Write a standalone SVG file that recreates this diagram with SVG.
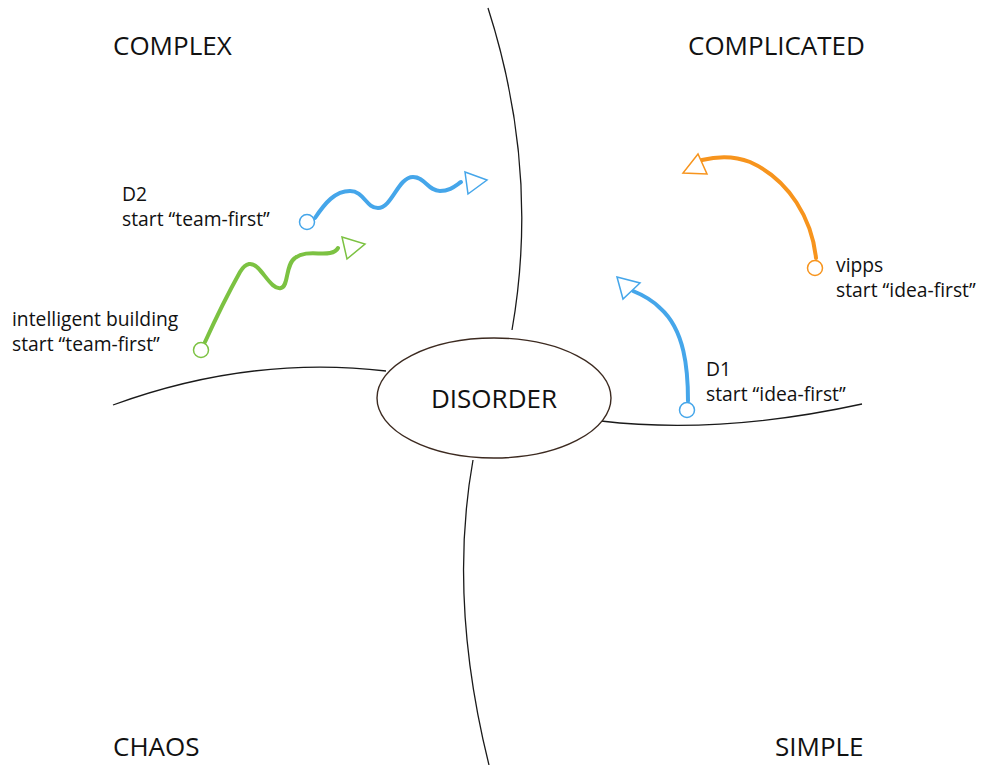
<svg xmlns="http://www.w3.org/2000/svg" width="982" height="765" viewBox="0 0 982 765">
  <style>
    .title { font-family: "Open Sans", "Noto Sans", sans-serif; font-size: 26px; fill: #111; }
    .label { font-family: "Open Sans", "Noto Sans", sans-serif; font-size: 19.3px; fill: #111; }
    .divider { fill: none; stroke: #1a1a1a; stroke-width: 1.3; }
    .path { fill: none; stroke-width: 4; stroke-linecap: round; }
    .head { fill: #fff; stroke-width: 1.5; stroke-linejoin: miter; }
    .dot { fill: #fff; stroke-width: 1.5; }
    .blue { stroke: #45a6ea; }
    .green { stroke: #7cc242; }
    .orange { stroke: #f7941d; }
  </style>
  <rect width="982" height="765" fill="#fff"/>

  <!-- domain boundaries -->
  <g id="connectors">
    <path class="divider" d="M488,8 Q540,170 512,330"/>
    <path class="divider" d="M113,405 Q250,355 386,371"/>
    <path class="divider" d="M601,421 Q720,435 862,404"/>
    <path class="divider" d="M473,460 Q448,600 489,765"/>
  </g>

  <!-- centre node -->
  <g id="disorder">
    <ellipse cx="494" cy="398" rx="117" ry="60" fill="#fff" stroke="#3c2a20" stroke-width="1.4"/>
    <text class="title" x="494" y="408" text-anchor="middle">DISORDER</text>
  </g>

  <!-- quadrant names -->
  <g id="complex"><text class="title" x="113" y="55">COMPLEX</text></g>
  <g id="complicated"><text class="title" x="688" y="55">COMPLICATED</text></g>
  <g id="chaos"><text class="title" x="113" y="756">CHAOS</text></g>
  <g id="simple"><text class="title" x="775" y="756">SIMPLE</text></g>

  <!-- D2 trajectory -->
  <g id="d2">
    <path class="path blue" d="M315,218 C325,203 335,191 350,191 C364,191 366,208 378,208 C392,208 398,177 413,177 C425,177 428,191 440,191 C450,191 455,186 461,182"/>
    <circle class="dot blue" cx="307" cy="222" r="7.5"/>
    <polygon class="head blue" points="465,172 487,180 468,194"/>
    <text class="label" x="122" y="201">D2</text>
    <text class="label" x="122" y="226">start “team-first”</text>
  </g>

  <!-- intelligent building trajectory -->
  <g id="intelligent-building">
    <path class="path green" d="M205,342 C215,320 230,290 240,272 C246,262 252,262 258,268 C266,276 273,290 281,288 C289,286 285,265 295,258 C305,250 320,255 330,253 C335,252 337,250 338,248"/>
    <circle class="dot green" cx="201" cy="350" r="7.5"/>
    <polygon class="head green" points="342,237 365,244 347,259"/>
    <text class="label" x="12" y="326">intelligent building</text>
    <text class="label" x="12" y="351">start “team-first”</text>
  </g>

  <!-- vipps trajectory -->
  <g id="vipps">
    <path class="path orange" d="M816,258 C812,220 790,180 750,162 C735,156 718,156 702,160"/>
    <circle class="dot orange" cx="815" cy="268" r="7.5"/>
    <polygon class="head orange" points="698,154 683,173 707,174"/>
    <text class="label" x="836" y="272">vipps</text>
    <text class="label" x="836" y="297">start “idea-first”</text>
  </g>

  <!-- D1 trajectory -->
  <g id="d1">
    <path class="path blue" d="M688,401 C688,370 685,330 660,308 C652,300 643,295 633,291"/>
    <circle class="dot blue" cx="687" cy="410" r="7.5"/>
    <polygon class="head blue" points="617,277 640,283 623,299"/>
    <text class="label" x="706" y="376">D1</text>
    <text class="label" x="706" y="401">start “idea-first”</text>
  </g>
</svg>
